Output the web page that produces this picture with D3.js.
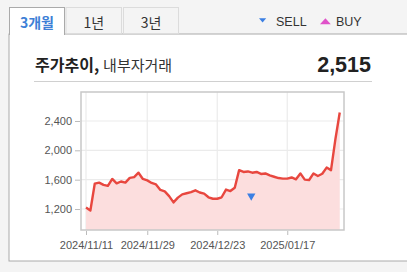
<!DOCTYPE html>
<html><head><meta charset="utf-8">
<script src="https://cdn.jsdelivr.net/npm/d3@7/dist/d3.min.js"></script>
<style>
html,body{margin:0;padding:0;background:#f4f4f4;}
svg{display:block;}
</style></head>
<body>
<script>
const dates = [
"2024/11/11","2024/11/12","2024/11/13","2024/11/14","2024/11/15","2024/11/18","2024/11/19","2024/11/20","2024/11/21","2024/11/22",
"2024/11/25","2024/11/26","2024/11/27","2024/11/28","2024/11/29","2024/12/02","2024/12/03","2024/12/04","2024/12/05","2024/12/06",
"2024/12/09","2024/12/10","2024/12/11","2024/12/12","2024/12/13","2024/12/16","2024/12/17","2024/12/18","2024/12/19","2024/12/20",
"2024/12/23","2024/12/24","2024/12/26","2024/12/27","2024/12/30","2025/01/02","2025/01/03","2025/01/06","2025/01/07","2025/01/08",
"2025/01/09","2025/01/10","2025/01/13","2025/01/14","2025/01/15","2025/01/16","2025/01/17","2025/01/20","2025/01/21","2025/01/22",
"2025/01/23","2025/01/24","2025/01/31","2025/02/03","2025/02/04","2025/02/05","2025/02/06","2025/02/07","2025/02/10"];
const prices = [
1220,1180,1545,1560,1530,1515,1610,1550,1575,1560,
1625,1635,1695,1610,1590,1555,1535,1460,1440,1375,
1290,1355,1400,1415,1430,1455,1425,1410,1360,1340,
1340,1360,1465,1445,1490,1730,1705,1712,1695,1705,
1678,1685,1658,1640,1622,1614,1614,1630,1605,1685,
1600,1596,1685,1650,1680,1765,1730,2150,2515];
const sellDates = ["2025/01/07"];
const sellPrices = [1378];
const yTicks = [1200,1600,2000,2400];
const xTickLabels = ["2024/11/11","2024/11/29","2024/12/23","2025/01/17"];
const tabs = ["3개월","1년","3년"];
const currentPrice = "2,515";

const W=407,H=272;
const svg=d3.select("body").append("svg").attr("width",W).attr("height",H);
const font="'Liberation Sans', Arial, sans-serif";
const kfont="'Noto Sans CJK KR', 'Liberation Sans', sans-serif";

// panel
svg.append("rect").attr("x",9).attr("y",34).attr("width",420).attr("height",227)
  .attr("fill","#fff").attr("stroke","#aaa").attr("stroke-width",1);

// tabs
const tabX=[9.5,66,123.5], tabW=[55,55.5,55];
tabs.forEach((t,i)=>{
  const g=svg.append("g");
  if(i===0){
    g.append("rect").attr("x",tabX[i]).attr("y",7.5).attr("width",tabW[i]).attr("height",27)
      .attr("fill","#fff").attr("stroke","#aaa");
    g.append("rect").attr("x",tabX[i]+0.5).attr("y",33).attr("width",tabW[i]-1).attr("height",2).attr("fill","#fff");
  } else {
    g.append("rect").attr("x",tabX[i]).attr("y",7.5).attr("width",tabW[i]).attr("height",26)
      .attr("fill","#f4f4f4").attr("stroke","#dcdcdc");
  }
  g.append("text").attr("x",tabX[i]+tabW[i]/2).attr("y",27.5).attr("text-anchor","middle")
    .attr("font-family",kfont).attr("font-size",14).attr("font-weight",i===0?"bold":"normal")
    .attr("fill",i===0?"#3d7fd6":"#333").text(t);
});

// legend
svg.append("path").attr("d","M259,18.3 L266.2,18.3 L262.6,22.6 Z").attr("fill","#3b7fe3");
svg.append("text").attr("x",276).attr("y",25.5).attr("font-family",font).attr("font-size",12.5).attr("fill","#333").text("SELL");
svg.append("path").attr("d","M320,24.2 L330.8,24.2 L325.4,18.3 Z").attr("fill","#e052c9");
svg.append("text").attr("x",336).attr("y",25.5).attr("font-family",font).attr("font-size",12.5).attr("fill","#333").text("BUY");

// title
const title=svg.append("text").attr("x",35).attr("y",71).attr("font-family",kfont).attr("fill","#222");
title.append("tspan").attr("font-weight","bold").attr("font-size",16).text("주가추이,");
title.append("tspan").attr("dx",4).attr("font-size",15).attr("fill","#333").text("내부자거래");
svg.append("text").attr("x",371).attr("y",72).attr("text-anchor","end").attr("font-family",font)
  .attr("font-size",21.5).attr("font-weight","bold").attr("fill","#222").text(currentPrice);
svg.append("line").attr("x1",34).attr("x2",372).attr("y1",81.5).attr("y2",81.5).attr("stroke","#d0d0d0");

// chart
const pl=81,pr=344,pt=92,pb=230;
const x=d3.scalePoint().domain(dates).range([86,339.75]);
const y=d3.scaleLinear().domain([914,2795]).range([pb,pt]);

const grid=svg.append("g");
grid.selectAll(".gy").data(yTicks).join("line").attr("x1",pl).attr("x2",pr)
  .attr("y1",d=>y(d)).attr("y2",d=>y(d)).attr("stroke","#ebebeb").attr("stroke-width",1.2);
grid.selectAll(".gx").data(xTickLabels).join("line").attr("y1",pt).attr("y2",pb)
  .attr("x1",d=>x(d)).attr("x2",d=>x(d)).attr("stroke","#ebebeb").attr("stroke-width",1.2);

const data=dates.map((d,i)=>({d,v:prices[i]}));
svg.append("path").datum(data)
  .attr("d",d3.area().x(p=>x(p.d)).y0(pb).y1(p=>y(p.v)))
  .attr("fill","#fcdede");
svg.append("path").datum(data)
  .attr("d",d3.line().x(p=>x(p.d)).y(p=>y(p.v)))
  .attr("fill","none").attr("stroke","#e8473f").attr("stroke-width",2.4).attr("stroke-linejoin","round");

sellDates.forEach((d,i)=>{
  svg.append("path").attr("d",d3.symbol().type(d3.symbolTriangle).size(30))
    .attr("transform",`translate(${x(d)-1},${y(sellPrices[i])}) rotate(180)`).attr("fill","#3b7fe3");
});

svg.append("rect").attr("x",pl).attr("y",pt).attr("width",pr-pl).attr("height",pb-pt)
  .attr("fill","none").attr("stroke","#c8c8c8").attr("stroke-width",1.5);

// y axis
const ya=svg.append("g").attr("transform",`translate(${pl-1},0)`)
  .call(d3.axisLeft(y).tickValues(yTicks).tickSize(5).tickPadding(3).tickFormat(d3.format(",")));
ya.select(".domain").remove();
ya.selectAll("line").attr("stroke","#bbb");
ya.selectAll("text").attr("font-family",font).attr("font-size",11).attr("fill","#555");

// x axis
const xa=svg.append("g").attr("transform",`translate(0,${pb+1})`)
  .call(d3.axisBottom(x).tickValues(xTickLabels).tickSize(4).tickPadding(6));
xa.select(".domain").remove();
xa.selectAll("line").attr("stroke","#bbb");
xa.selectAll("text").attr("font-family",font).attr("font-size",11).attr("fill","#555");
</script>
</body></html>
